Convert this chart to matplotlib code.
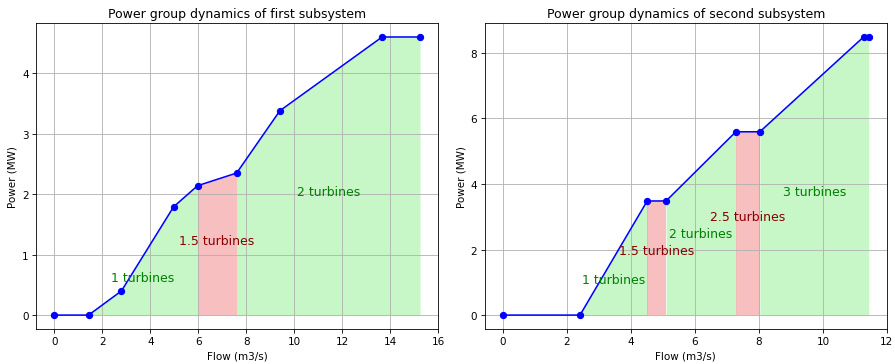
import matplotlib
matplotlib.use("Agg")
import matplotlib.pyplot as plt
import numpy as np

# first subsystem
flow_1 = [0, 1.43, 2.8, 4.97, 5.97, 7.6, 9.4, 13.66, 15.24]
power_1 = [0, 0, 0.4, 1.79, 2.14, 2.35, 3.38, 4.6, 4.6]
# regions: (start flow, end flow, label, label y, is transition)
regions_1 = [
    (1.43, 5.97, "1 turbines", 0.62, False),
    (5.97, 7.6, "1.5 turbines", 1.24, True),
    (7.6, 15.24, "2 turbines", 2.04, False),
]

# second subsystem
flow_2 = [0, 2.41, 4.51, 5.1, 7.28, 8.03, 11.27, 11.43]
power_2 = [0, 0, 3.48, 3.48, 5.59, 5.59, 8.48, 8.48]
regions_2 = [
    (2.41, 4.51, "1 turbines", 1.1, False),
    (4.51, 5.1, "1.5 turbines", 1.96, True),
    (5.1, 7.28, "2 turbines", 2.49, False),
    (7.28, 8.03, "2.5 turbines", 3.0, True),
    (8.03, 11.43, "3 turbines", 3.77, False),
]


def plot_subsystem(ax, flow, power, regions, title):
    """Draw one power curve with shaded turbine regions"""
    flow = np.array(flow)
    power = np.array(power)
    for start, end, label, ly, trans in regions:
        mask = (flow >= start) & (flow <= end)
        fill = "lightcoral" if trans else "lightgreen"
        ax.fill_between(flow[mask], power[mask], color=fill, alpha=0.5, linewidth=0)
        ax.text((start + end) / 2, ly, label, ha="center", va="center",
                fontsize=12, color="darkred" if trans else "green")
    ax.plot(flow, power, "b-o")
    ax.set_title(title)
    ax.set_xlabel("Flow (m3/s)")
    ax.set_ylabel("Power (MW)")
    ax.grid(True)


fig, axes = plt.subplots(1, 2, figsize=(895 / 75, 365 / 75), dpi=75)
plot_subsystem(axes[0], flow_1, power_1, regions_1, "Power group dynamics of first subsystem")
plot_subsystem(axes[1], flow_2, power_2, regions_2, "Power group dynamics of second subsystem")
fig.subplots_adjust(left=0.0402, right=0.991, bottom=0.0959, top=0.934, wspace=0.115)
fig.savefig("out.png", dpi=75)
